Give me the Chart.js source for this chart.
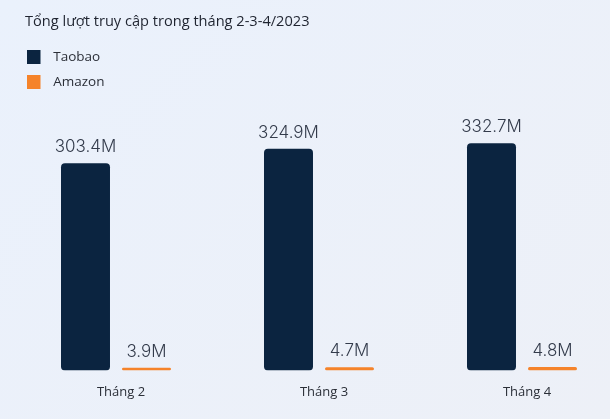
<!DOCTYPE html>
<html>
<head>
<meta charset="utf-8">
<script src="https://cdn.jsdelivr.net/npm/chart.js@4.4.1/dist/chart.umd.min.js"></script>
<style>
  html, body {
    margin: 0;
    padding: 0;
    width: 610px;
    height: 419px;
    overflow: hidden;
    background: linear-gradient(135deg, #eaf1fc 0%, #edf0f7 100%);
  }
  canvas { display: block; }
</style>
</head>
<body>
<canvas id="myChart" width="624" height="419"></canvas>
<script>
// du lieu doc tu hinh
const months = ["Tháng 2", "Tháng 3", "Tháng 4"];
const taobao = [303.4, 324.9, 332.7];
const amazon = [3.9, 4.7, 4.8];
const chartTitle = "Tổng lượt truy cập trong tháng 2-3-4/2023";

const colors = ["#0b2440", "#f5832a"];

document.addEventListener("DOMContentLoaded", () => {
  const ctx = document.getElementById("myChart").getContext("2d");

  // o mau cho legend (de trong ben phai de chu cach xa hon)
  const makeSwatch = (color) => {
    const cv = document.createElement("canvas");
    cv.width = 20;
    cv.height = 14;
    const c = cv.getContext("2d");
    c.fillStyle = color;
    c.fillRect(0, 0, 14, 14);
    return cv;
  };
  const swatches = colors.map(makeSwatch);

  // ve tieu de o goc trai
  const titlePlugin = {
    id: "leftTitle",
    beforeDraw(chart) {
      const c = chart.ctx;
      c.save();
      c.font = "14.6px 'Open Sans'";
      c.fillStyle = "#1f2430";
      c.textAlign = "left";
      c.textBaseline = "middle";
      c.fillText(chartTitle, 25, 22);
      c.restore();
    },
  };

  // dua legend xuong dung dau vung bieu do
  const legendTop = {
    id: "legendTop",
    afterLayout(chart) {
      const lg = chart.legend;
      if (!lg) return;
      const h = lg.bottom - lg.top;
      lg.top = chart.chartArea.top;
      lg.bottom = lg.top + h;
    },
  };

  // nhan gia tri tren moi cot
  const valueLabels = {
    id: "valueLabels",
    afterDatasetsDraw(chart) {
      const c = chart.ctx;
      c.save();
      c.font = "300 17px Inter";
      c.fillStyle = "#333b4b";
      c.textAlign = "center";
      c.textBaseline = "alphabetic";
      chart.data.datasets.forEach((ds, i) => {
        chart.getDatasetMeta(i).data.forEach((bar, j) => {
          c.fillText(ds.data[j].toFixed(1) + "M", bar.x, bar.y - 11);
        });
      });
      c.restore();
    },
  };

  new Chart(ctx, {
    type: "bar",
    data: {
      labels: months,
      datasets: [
        {
          label: "Taobao",
          data: taobao,
          backgroundColor: colors[0],
          borderRadius: 4,
          borderSkipped: false,
        },
        {
          label: "Amazon",
          data: amazon,
          backgroundColor: colors[1],
          borderRadius: 2,
          borderSkipped: false,
        },
      ],
    },
    options: {
      responsive: false,
      animation: false,
      categoryPercentage: 0.601,
      barPercentage: 0.803,
      layout: {
        padding: { left: 14.5, right: 0.5, top: 38, bottom: 5 },
      },
      scales: {
        x: {
          grid: { display: false, drawTicks: false },
          border: { display: false },
          ticks: {
            padding: 14,
            labelOffset: 5,
            color: "#2b2f38",
            font: { family: "'Open Sans'", size: 13 },
          },
        },
        y: {
          display: false,
          min: 0,
          max: 487,
        },
      },
      plugins: {
        legend: {
          position: "chartArea",
          align: "start",
          labels: {
            usePointStyle: true,
            pointStyleWidth: 20,
            boxHeight: 14,
            padding: 12,
            color: "#2b2f38",
            font: { family: "'Open Sans'", size: 13.5 },
            generateLabels(chart) {
              const items = Chart.defaults.plugins.legend.labels.generateLabels(chart);
              items.forEach((it, i) => {
                it.pointStyle = swatches[i];
              });
              return items;
            },
          },
        },
        tooltip: { enabled: false },
      },
    },
    plugins: [titlePlugin, legendTop, valueLabels],
  });
});
</script>
</body>
</html>
